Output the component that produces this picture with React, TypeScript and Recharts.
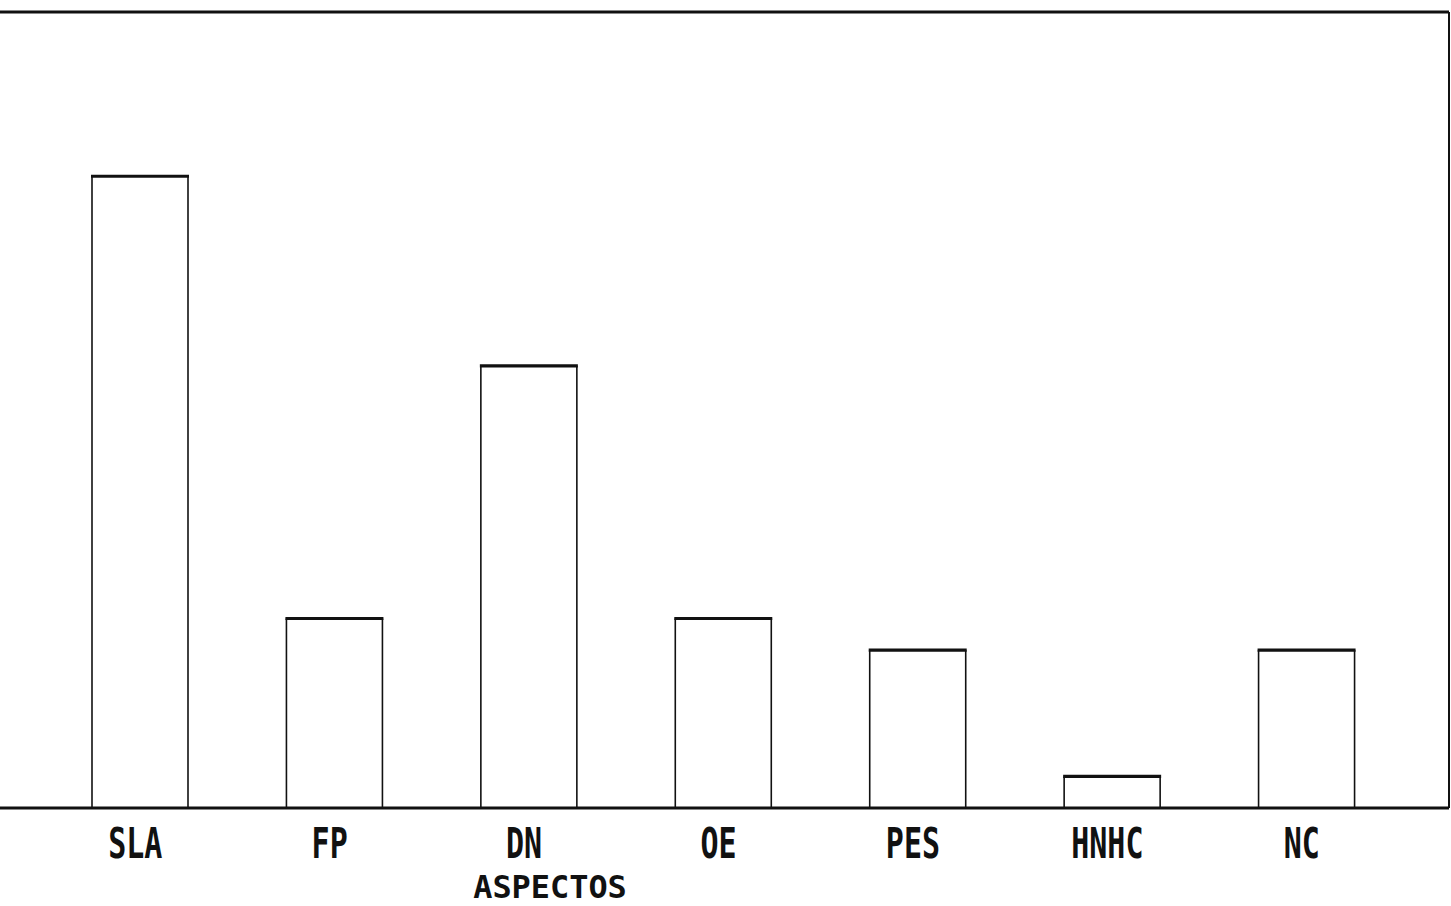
import { BarChart, Bar, XAxis, YAxis, Label } from 'recharts';

const aspectos = ['SLA', 'FP', 'DN', 'OE', 'PES', 'HNHC', 'NC'];
const valores = [20, 6, 14, 6, 5, 1, 5];

const data = aspectos.map((a, i) => ({ name: a, value: valores[i] }));

// barra abierta: tapa gruesa, lados finos
const OpenBar = (props: any) => {
  const { x, y, width, height } = props;
  return (
    <g>
      <rect x={x} y={y} width={width} height={height} fill="#fff" />
      <line x1={x} y1={y} x2={x} y2={y + height} stroke="#111" strokeWidth={1.6} />
      <line x1={x + width} y1={y} x2={x + width} y2={y + height} stroke="#111" strokeWidth={1.6} />
      <line x1={x - 1} y1={y} x2={x + width + 1} y2={y} stroke="#111" strokeWidth={3.2} />
    </g>
  );
};

const Tick = (props: any) => {
  const { x, y, payload } = props;
  return (
    <text
      transform={`translate(${x - 5},${y + 42}) scale(1,1.4)`}
      textAnchor="middle"
      fontFamily="DejaVu Sans Mono"
      fontWeight="bold"
      fontSize={30}
      fill="#111"
    >
      {payload.value}
    </text>
  );
};

export default function App() {
  return (
    <div style={{ position: 'absolute', left: 0, top: 0, background: '#fff' }}>
      <BarChart width={1451} height={906} data={data} margin={{ top: 11, right: 1, left: 0, bottom: 0 }}>
        <XAxis
          dataKey="name"
          padding={{ left: 43, right: 45 }}
          axisLine={{ stroke: '#111', strokeWidth: 3 }}
          tickLine={false}
          tick={<Tick />}
          interval={0}
          height={98}
        >
          <Label
            content={() => (
              <text
                transform={`translate(550,898) scale(1.1,1.12)`}
                textAnchor="middle"
                fontFamily="DejaVu Sans Mono"
                fontWeight="bold"
                fontSize={29}
                fill="#111"
              >
                ASPECTOS
              </text>
            )}
          />
        </XAxis>
        <XAxis
          xAxisId="top"
          orientation="top"
          dataKey="name"
          height={1}
          axisLine={{ stroke: '#111', strokeWidth: 3 }}
          tickLine={false}
          tick={false}
        />
        <YAxis hide domain={[0, 25.2]} />
        <YAxis
          yAxisId="right"
          orientation="right"
          width={1}
          axisLine={{ stroke: '#111', strokeWidth: 2 }}
          tickLine={false}
          tick={false}
        />
        <Bar dataKey="value" barSize={96} shape={<OpenBar />} isAnimationActive={false} />
      </BarChart>
    </div>
  );
}
